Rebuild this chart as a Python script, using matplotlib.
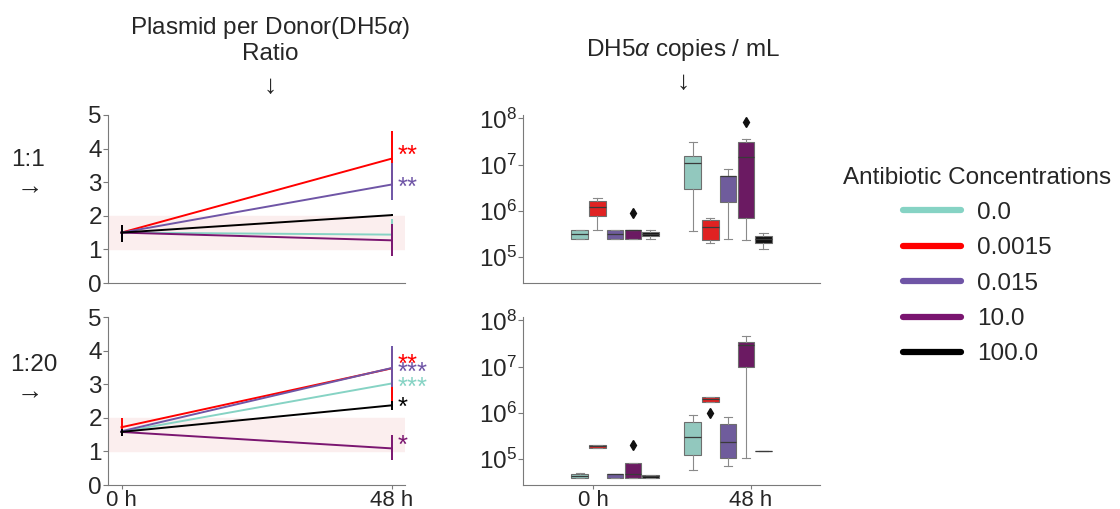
import numpy as np
import matplotlib
matplotlib.use("Agg")
from matplotlib import pyplot as plt
from matplotlib.lines import Line2D
from matplotlib.transforms import offset_copy

FS = 17.5
plt.rcParams['font.family'] = ['Liberation Sans', 'DejaVu Sans']
plt.rcParams['font.size'] = FS
plt.rcParams['mathtext.fontset'] = 'custom'
plt.rcParams['mathtext.rm'] = 'Liberation Sans'
plt.rcParams['mathtext.it'] = 'Liberation Sans:italic'
plt.rcParams['text.color'] = '#262626'
plt.rcParams['axes.edgecolor'] = '#7a7a7a'
plt.rcParams['xtick.color'] = '#7a7a7a'
plt.rcParams['ytick.color'] = '#7a7a7a'
plt.rcParams['xtick.labelcolor'] = '#262626'
plt.rcParams['ytick.labelcolor'] = '#262626'

# antibiotic concentrations and their colours
concs = ["0.0", "0.0015", "0.015", "10.0", "100.0"]
line_colors = ["#86d3c4", "#ff0000", "#6f55a6", "#7a1570", "#000000"]
box_colors = ["#92c8be", "#e02222", "#6f5c9c", "#6b1a62", "#111111"]

hours = [0, 48]
time_labels = ["0 h", "48 h"]

# plasmid per donor ratio, mating ratio 1:1 (mean, lower, upper per concentration)
ratio_11_mean = [[1.50, 1.44], [1.50, 3.70], [1.50, 2.93], [1.50, 1.27], [1.50, 2.02]]
ratio_11_low = [[1.23, 1.00], [1.23, 2.90], [1.23, 2.47], [1.23, 0.81], [1.23, 2.00]]
ratio_11_high = [[1.72, 1.89], [1.72, 4.51], [1.72, 3.56], [1.72, 1.77], [1.72, 2.04]]
stars_11 = ["", "**", "**", "", ""]
star_y_11 = [0, 4.02, 3.07, 0, 0]

# plasmid per donor ratio, mating ratio 1:20
ratio_120_mean = [[1.58, 3.02], [1.72, 3.47], [1.60, 3.48], [1.58, 1.09], [1.58, 2.37]]
ratio_120_low = [[1.45, 2.60], [1.45, 2.45], [1.45, 2.93], [1.45, 0.75], [1.45, 2.24]]
ratio_120_high = [[1.67, 3.40], [2.00, 4.05], [1.67, 4.14], [1.67, 1.48], [1.67, 2.51]]
stars_120 = ["***", "**", "***", "*", "*"]
star_y_120 = [3.13, 3.82, 3.57, 1.41, 2.54]

# DH5a copies / mL box summaries: [time][concentration]
# 1:1
q1_11 = [[2.4e5, 7.7e5, 2.4e5, 2.4e5, 2.8e5], [2.9e6, 2.3e5, 1.55e6, 6.8e5, 2.0e5]]
med_11 = [[3.1e5, 1.21e6, 3.2e5, 3.9e5, 3.1e5], [1.06e7, 4.4e5, 5.7e6, 1.43e7, 2.4e5]]
q3_11 = [[3.9e5, 1.6e6, 3.9e5, 3.9e5, 3.47e5], [1.55e7, 6.4e5, 5.7e6, 3.0e7, 2.84e5]]
wlo_11 = [[2.4e5, 3.8e5, 2.4e5, 2.4e5, 2.4e5], [3.6e5, 1.95e5, 2.4e5, 2.3e5, 1.51e5]]
whi_11 = [[3.9e5, 1.84e6, 3.9e5, 3.9e5, 3.9e5], [3.1e7, 7.1e5, 8.1e6, 3.5e7, 3.3e5]]
fliers_11 = [[[], [], [], [9.0e5], []], [[], [], [], [8.3e7], []]]
# 1:20
q1_120 = [[3.8e4, 1.76e5, 3.8e4, 3.8e4, 3.9e4], [1.24e5, 1.72e6, 1.07e5, 1.0e7, 1.51e5]]
med_120 = [[4.2e4, 1.9e5, 4.6e4, 4.7e4, 4.2e4], [3.0e5, 2.0e6, 2.37e5, 2.87e7, 1.51e5]]
q3_120 = [[4.6e4, 2.0e5, 4.6e4, 8.3e4, 4.4e4], [6.2e5, 2.14e6, 5.8e5, 3.39e7, 1.51e5]]
wlo_120 = [[3.8e4, 1.76e5, 3.8e4, 3.8e4, 3.9e4], [5.7e4, 1.72e6, 6.9e4, 1.07e5, 1.51e5]]
whi_120 = [[4.9e4, 2.0e5, 4.6e4, 8.3e4, 4.4e4], [9.1e5, 2.14e6, 8.0e5, 4.65e7, 1.51e5]]
fliers_120 = [[[], [], [], [2.04e5], []], [[], [9.8e5], [], [], []]]


def ratio_panel(ax, mean, low, high, stars, star_y, show_x):
    ax.axhspan(1, 2, color="#fbeeee", zorder=0)
    # asterisks sit high in the em box, so drop the baseline a bit
    star_tr = offset_copy(ax.transData, fig=ax.figure, y=-0.58 * 18.5, units="points")
    for i in range(len(concs)):
        m = np.array(mean[i])
        err = [m - np.array(low[i]), np.array(high[i]) - m]
        ax.errorbar(hours, m, yerr=err, color=line_colors[i], lw=1.4, elinewidth=1.4,
                    capsize=0, zorder=2 + i)
        if stars[i]:
            ax.text(49.1, star_y[i], stars[i], color=line_colors[i], fontsize=18.5,
                    va="baseline", ha="left", clip_on=False, transform=star_tr)
    ax.set_ylim(0, 5)
    ax.set_yticks([0, 1, 2, 3, 4, 5])
    ax.set_xticks(hours)
    if show_x:
        ax.set_xticklabels(time_labels)
    else:
        ax.tick_params(axis="x", bottom=False, labelbottom=False)
    ax.spines["top"].set_visible(False)
    ax.spines["right"].set_visible(False)
    ax.tick_params(labelsize=FS, length=3.5, width=0.8, pad=1)
    ax.tick_params(axis="x", labelsize=16, length=3, pad=0.5)


def copies_panel(ax, q1, med, q3, wlo, whi, fliers, show_x):
    centers = [0.14, 0.855]
    step = 0.112
    for t in range(2):
        for i in range(len(concs)):
            stats = [dict(q1=q1[t][i], med=med[t][i], q3=q3[t][i], whislo=wlo[t][i],
                          whishi=whi[t][i], fliers=fliers[t][i])]
            pos = centers[t] + (i - 2) * step
            ax.bxp(stats, positions=[pos], widths=0.104, patch_artist=True,
                   boxprops=dict(facecolor=box_colors[i], edgecolor="#6e6e6e", lw=0.8),
                   medianprops=dict(color="#3a3a3a", lw=0.9),
                   whiskerprops=dict(color="#8a8a8a", lw=0.8),
                   capprops=dict(color="#8a8a8a", lw=0.8),
                   capwidths=0.052,
                   flierprops=dict(marker="d", markerfacecolor="#111111",
                                   markeredgecolor="#111111", markersize=5))
    ax.set_yscale("log")
    ax.set_ylim(2.72e4, 1.18e8)
    ax.set_yticks([1e5, 1e6, 1e7, 1e8])
    ax.set_xlim(-0.443, 1.437)
    ax.set_xticks([0, 1])
    if show_x:
        ax.set_xticklabels(time_labels)
    else:
        ax.tick_params(axis="x", bottom=False, labelbottom=False)
    ax.spines["top"].set_visible(False)
    ax.spines["right"].set_visible(False)
    ax.tick_params(labelsize=FS, length=3.5, width=0.8, pad=1)
    ax.tick_params(axis="x", labelsize=16, length=3, pad=0.5)
    ax.tick_params(which="minor", length=2, width=0.5)


fig = plt.figure(figsize=(11.2, 5.09), dpi=100)
W, H = 1120, 509
ax_r11 = fig.add_axes([108 / W, 1 - 283 / H, 297 / W, 168 / H])
ax_r120 = fig.add_axes([108 / W, 1 - 485 / H, 297 / W, 168 / H])
ax_c11 = fig.add_axes([523 / W, 1 - 283 / H, 297 / W, 168 / H])
ax_c120 = fig.add_axes([523 / W, 1 - 485 / H, 297 / W, 168 / H])

ratio_panel(ax_r11, ratio_11_mean, ratio_11_low, ratio_11_high, stars_11, star_y_11, False)
ratio_panel(ax_r120, ratio_120_mean, ratio_120_low, ratio_120_high, stars_120, star_y_120, True)
copies_panel(ax_c11, q1_11, med_11, q3_11, wlo_11, whi_11, fliers_11, False)
copies_panel(ax_c120, q1_120, med_120, q3_120, wlo_120, whi_120, fliers_120, True)

# column headers and row labels
fig.text(270 / W, 1 - 28 / H, "Plasmid per Donor(DH5$\\alpha$)", ha="center", va="center")
fig.text(270 / W, 1 - 54 / H, "Ratio", ha="center", va="center")
fig.text(270 / W, 1 - 86 / H, "↓", ha="center", va="center", fontsize=19)
fig.text(683 / W, 1 - 50 / H, "DH5$\\alpha$ copies / mL", ha="center", va="center")
fig.text(683 / W, 1 - 82 / H, "↓", ha="center", va="center", fontsize=19)
fig.text(28 / W, 1 - 160 / H, "1:1", ha="center", va="center")
fig.text(30 / W, 1 - 187 / H, "→", ha="center", va="center", fontsize=19)
fig.text(34 / W, 1 - 365 / H, "1:20", ha="center", va="center")
fig.text(30 / W, 1 - 392 / H, "→", ha="center", va="center", fontsize=19)

handles = [Line2D([0], [0], color=c, lw=4.5, solid_capstyle="round") for c in line_colors]
fig.legend(handles, concs, title="Antibiotic Concentrations", loc="center",
           bbox_to_anchor=(977 / W, 1 - 266 / H), frameon=False, fontsize=FS,
           title_fontsize=FS, handlelength=2.4, handletextpad=0.65, labelspacing=0.55)

fig.savefig("out.png", dpi=100)
